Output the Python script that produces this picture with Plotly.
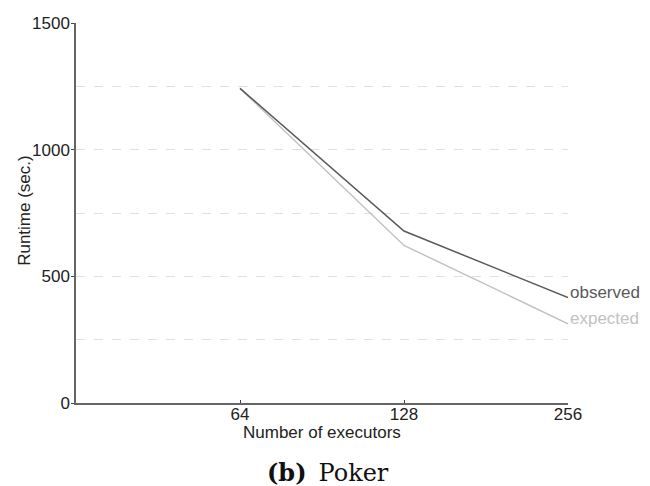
import numpy as np
import plotly.graph_objects as go

executors = [64, 128, 256]
observed = [1242, 679, 416]
expected = [1242, 622, 313]
y_ticks = [0, 500, 1000, 1500]
x_ticks = [64, 128, 256]

SANS = "Liberation Sans, Arial"

fig = go.Figure()
fig.add_trace(go.Scatter(x=executors, y=expected, mode="lines",
                         line=dict(color="#c2c2c2", width=1.5), name="expected",
                         showlegend=False))
fig.add_trace(go.Scatter(x=executors, y=observed, mode="lines",
                         line=dict(color="#5a5a5a", width=1.5), name="observed",
                         showlegend=False))

fig.add_annotation(x=np.log10(executors[-1]), y=observed[-1], text="observed",
                   xanchor="left", yanchor="middle", showarrow=False, xshift=0, yshift=5,
                   font=dict(family=SANS, size=17, color="#5a5a5a"))
fig.add_annotation(x=np.log10(executors[-1]), y=expected[-1], text="expected",
                   xanchor="left", yanchor="middle", showarrow=False, xshift=0, yshift=5,
                   font=dict(family=SANS, size=17, color="#c2c2c2"))

fig.add_annotation(xref="paper", yref="paper", x=0.5, y=-0.077, text="Number of executors",
                   showarrow=False, xanchor="center", yanchor="middle",
                   font=dict(family=SANS, size=17, color="#222"))
fig.add_annotation(xref="paper", yref="paper", x=-0.1047, y=0.507, text="Runtime (sec.)",
                   showarrow=False, xanchor="center", yanchor="middle", textangle=-90,
                   font=dict(family=SANS, size=17, color="#222"))
fig.add_annotation(xref="paper", yref="paper", x=0.512, y=-0.182,
                   text="<b>(b)</b>\u2002Poker",
                   showarrow=False, xanchor="center", yanchor="middle",
                   font=dict(family="DejaVu Serif, Liberation Serif, serif", size=24, color="#111"))

fig.update_layout(
    width=650, height=486,
    margin=dict(l=76, r=82, t=23, b=83, pad=0),
    plot_bgcolor="white", paper_bgcolor="white",
    xaxis=dict(type="log", range=[np.log10(32), np.log10(256)],
               tickvals=x_ticks, ticktext=[str(v) for v in x_ticks],
               showgrid=False, zeroline=False,
               showline=True, linecolor="#666", linewidth=1.5,
               ticks="inside", ticklen=3, tickcolor="#444", tickwidth=1,
               ticklabelstandoff=-5,
               tickfont=dict(family=SANS, size=17, color="#222")),
    yaxis=dict(range=[0, 1500], tickvals=y_ticks,
               showgrid=True, gridcolor="#e0e0e0", griddash="dash", gridwidth=1,
               minor=dict(dtick=250, showgrid=True, gridcolor="#e0e0e0", griddash="dash", ticks=""),
               zeroline=False,
               showline=True, linecolor="#666", linewidth=1.5,
               ticks="outside", ticklen=3, tickcolor="#444", tickwidth=1,
               ticklabelstandoff=-2,
               tickfont=dict(family=SANS, size=17, color="#222")),
)

fig.write_html("out.html")
